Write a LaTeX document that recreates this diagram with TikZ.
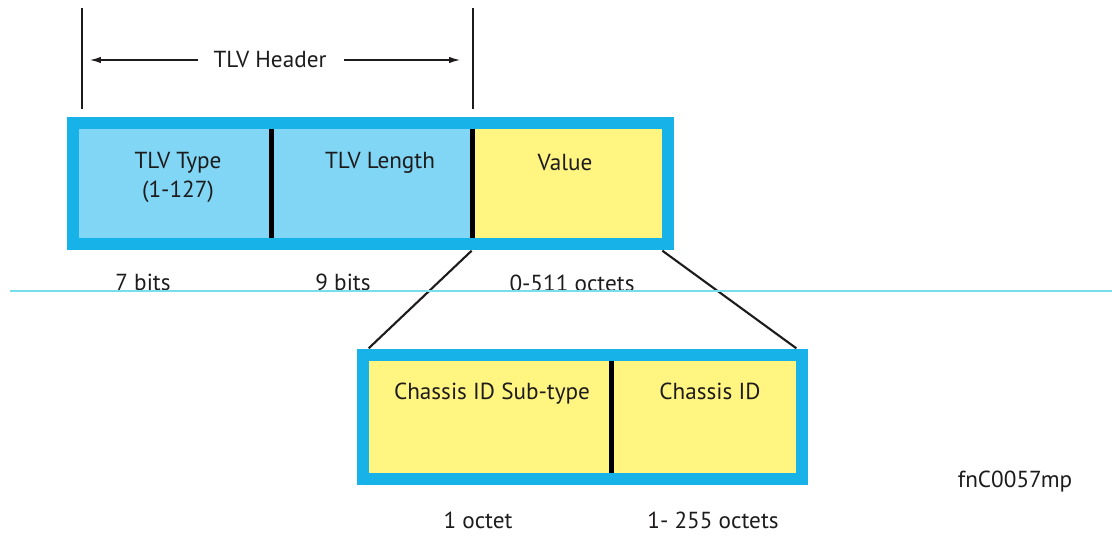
\documentclass[tikz,border=0pt]{standalone}
\usepackage{fontspec}
\setmainfont{PT Sans}
\usepackage{xcolor}
\definecolor{tlvblue}{RGB}{22,178,232}
\definecolor{tlvsky}{RGB}{128,214,244}
\definecolor{tlvyellow}{RGB}{255,245,128}
\definecolor{tlvcyan}{RGB}{120,222,236}
\definecolor{tlvtext}{RGB}{30,27,28}
\usetikzlibrary{arrows.meta,positioning,calc,fit,backgrounds}

\begin{document}
\begin{tikzpicture}[x=0.02cm,y=-0.02cm,
  field/.style={rectangle,inner sep=0pt,minimum height=2.18cm},
  fieldtext/.style={font=\fontsize{13.2}{16.5}\selectfont,text=tlvtext,align=center,anchor=north,inner sep=0pt},
  sizetext/.style={font=\fontsize{13.2}{16.5}\selectfont,text=tlvtext,anchor=base,inner sep=0pt},
  fieldframe/.style={fill=tlvblue,inner sep=0.24cm},
  divider/.style={line width=2.6pt,black},
  guideline/.style={line width=0.8pt,tlvtext},
  hdrarrow/.style={line width=0.8pt,tlvtext,-{Latex[length=0.22cm,width=0.13cm]}}]
  \useasboundingbox (0,0) rectangle (1112,537);
  % TLV fields
  \node[field,fill=tlvsky,minimum width=3.84cm] (type) at (175,183.5) {};
  \node[field,fill=tlvsky,minimum width=4.02cm] (length) at (371.5,183.5) {};
  \node[field,fill=tlvyellow,minimum width=3.8cm] (value) at (567,183.5) {};
  % Value fields
  \node[field,fill=tlvyellow,minimum width=4.84cm,minimum height=2.24cm] (subtype) at (490,417) {};
  \node[field,fill=tlvyellow,minimum width=3.7cm,minimum height=2.24cm] (chassis) at (703.5,417) {};
  % Frames
  \begin{scope}[on background layer]
    \node[fieldframe,fit=(type)(value)] (tlv) {};
    \node[fieldframe,fit=(subtype)(chassis)] (sub) {};
  \end{scope}
  % Dividers
  \draw[divider] (type.north east) -- (type.south east);
  \draw[divider] (length.north east) -- (length.south east);
  \draw[divider] (subtype.north east) -- (subtype.south east);
  % Field texts
  \node[fieldtext] (typetext) at ($(type.north)+(3,23)$) {TLV Type\\(1-127)};
  \node[fieldtext] (lengthtext) at ($(length.north)+(8.5,23)$) {TLV Length};
  \node[fieldtext] (valuetext) at ($(value.north)+(-2,25)$) {Value};
  \node[fieldtext] (subtypetext) at ($(subtype.north)+(2,22)$) {Chassis ID Sub-type};
  \node[fieldtext] (chassistext) at ($(chassis.north)+(6.5,22)$) {Chassis ID};
  % Header
  \node[fieldtext,anchor=center] (hdr) at (270,60) {TLV Header};
  \coordinate (hl) at (82,8);
  \coordinate (hr) at (473,8);
  \draw[guideline,shorten >=0.14cm] (hl) -- (hl |- tlv.north);
  \draw[guideline,shorten >=0.14cm] (hr) -- (hr |- tlv.north);
  \draw[hdrarrow,shorten <=0.3cm,shorten >=0.16cm] (hdr.west) -- (hl |- hdr);
  \draw[hdrarrow,shorten <=0.34cm,shorten >=0.26cm] (hdr.east) -- (hr |- hdr);
  % Zoom lines
  \draw[guideline,line width=1.2pt] (value.south west |- tlv.south) -- (subtype.north west |- sub.north);
  \draw[guideline,line width=1.2pt] (value.south east |- tlv.south) -- (chassis.north east |- sub.north);
  % Sizes
  \node[sizetext] (typesize) at (143,290) {7 bits};
  \node[sizetext] (lengthsize) at (343,290) {9 bits};
  \node[sizetext] (valuesize) at (572,291) {0-511 octets};
  \node[sizetext] (subtypesize) at (478,528) {1 octet};
  \node[sizetext] (chassissize) at (713,528) {1- 255 octets};
  % Cut line
  \coordinate (cl) at (10,291);
  \coordinate (cr) at (1112,291);
  \draw[tlvcyan,line width=0.7pt] (cl) -- (cr);
  % Figure id
  \node[sizetext] (figid) at (1015,487) {fnC0057mp};
\end{tikzpicture}
\end{document}
